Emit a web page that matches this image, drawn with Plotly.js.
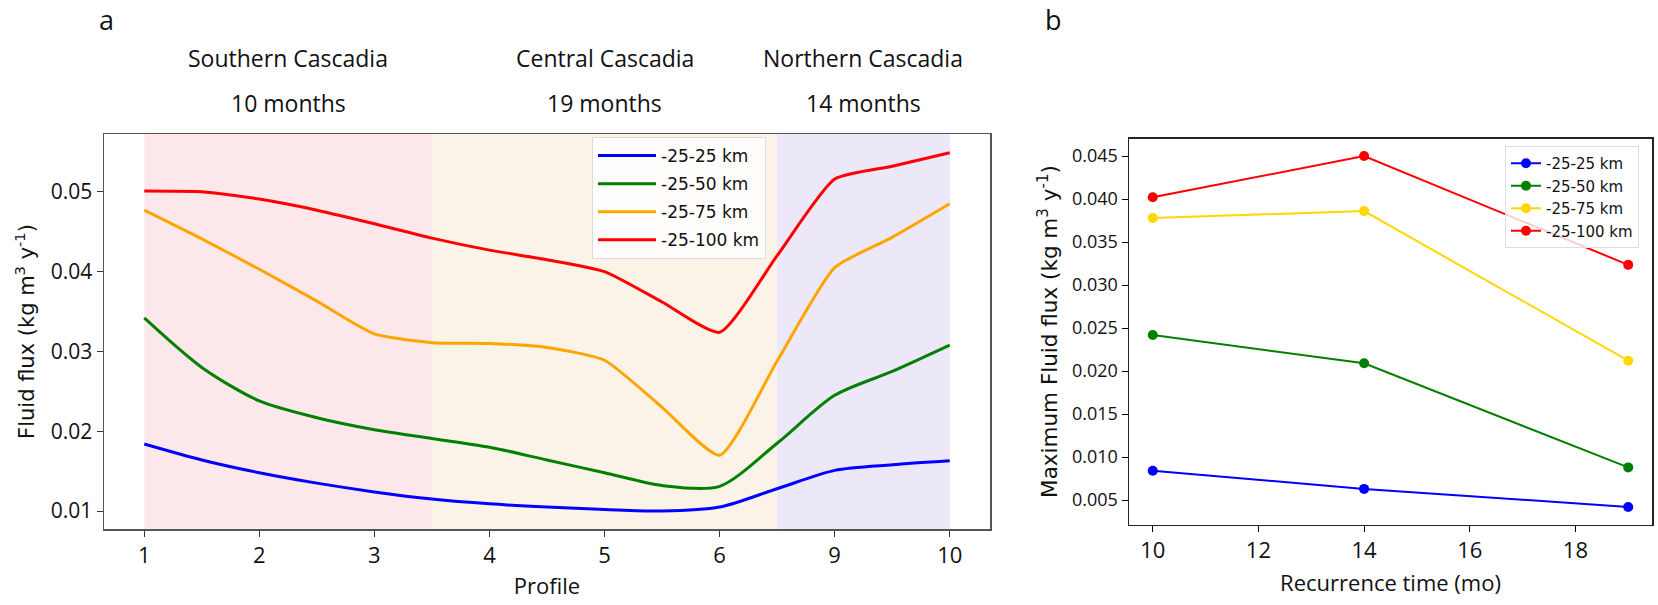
<!DOCTYPE html>
<html>
<head>
<meta charset="utf-8">
<script src="https://cdn.plot.ly/plotly-3.0.1.min.js"></script>
<style>
  html, body { margin: 0; padding: 0; background: #fff; }
  #chart { width: 1658px; height: 605px; }
</style>
</head>
<body>
<div id="chart"></div>
<script>
// ---- Panel a: fluid flux along the margin, by profile ----
const profiles = ['1', '2', '3', '4', '5', '6', '9', '10'];
const profileIndex = profiles.map((p, i) => i);

// Sample positions along the profile axis (index units) and flux values
const fluxPos = [0, 0.5, 1, 1.5, 2, 2.5, 3, 3.5, 4, 4.5, 5, 5.5, 6, 6.5, 7];
const flux25  = [0.0184, 0.0164, 0.0148, 0.0135, 0.0124, 0.0115, 0.0109, 0.0105, 0.0102, 0.0100, 0.0105, 0.0128, 0.0151, 0.0158, 0.0163];
const flux50  = [0.0342, 0.0280, 0.0238, 0.0217, 0.0202, 0.0191, 0.0180, 0.0164, 0.0148, 0.0132, 0.0131, 0.0185, 0.0245, 0.0275, 0.0308];
const flux75  = [0.0477, 0.0441, 0.0403, 0.0363, 0.0322, 0.0311, 0.0310, 0.0305, 0.0289, 0.0230, 0.0170, 0.0288, 0.0405, 0.0443, 0.0485];
const flux100 = [0.0501, 0.0500, 0.0491, 0.0477, 0.0460, 0.0442, 0.0427, 0.0415, 0.0400, 0.0362, 0.0324, 0.0420, 0.0516, 0.0532, 0.0549];

const depthLabels = ['-25-25 km', '-25-50 km', '-25-75 km', '-25-100 km'];
const colorsA = ['#0000ff', '#008000', '#ffa500', '#ff0000'];
const colorsB = ['#0000ff', '#008000', '#ffd700', '#ff0000'];

// Segments of the margin: extent in profile-index units, names and recurrence
const regionNames  = ['Southern Cascadia', 'Central Cascadia', 'Northern Cascadia'];
const regionMonths = ['10 months', '19 months', '14 months'];
const regionStart  = [0, 2.5, 5.5];
const regionEnd    = [2.5, 5.5, 7];
const regionFill   = ['#fce8ea', '#fcf3e8', '#ece8f8'];

// ---- Panel b: maximum flux against recurrence time ----
const recurrence = [10, 14, 19];
const max25  = [0.0084, 0.0063, 0.0042];
const max50  = [0.0242, 0.0209, 0.0088];
const max75  = [0.0378, 0.0386, 0.0212];
const max100 = [0.0402, 0.0450, 0.03235];

const FONT_SANS = 'Open Sans, Noto Sans, sans-serif';
const FONT_DV = 'DejaVu Sans, sans-serif';

const fluxSeries = [flux25, flux50, flux75, flux100];
const maxSeries = [max25, max50, max75, max100];
const fluxSmoothing = [0.8, 0.8, 0.55, 0.55];

const traces = [];
fluxSeries.forEach((ys, i) => {
  traces.push({
    type: 'scatter', mode: 'lines',
    x: fluxPos, y: ys,
    name: depthLabels[i],
    line: { color: colorsA[i], width: 3, shape: 'spline', smoothing: fluxSmoothing[i] },
    xaxis: 'x', yaxis: 'y',
    legend: 'legend', legendgroup: 'a' + i,
    hoverinfo: 'skip'
  });
});
maxSeries.forEach((ys, i) => {
  traces.push({
    type: 'scatter', mode: 'lines+markers',
    x: recurrence, y: ys,
    name: depthLabels[i],
    line: { color: colorsB[i], width: 2 },
    marker: { color: colorsB[i], size: 10 },
    xaxis: 'x2', yaxis: 'y2',
    legend: 'legend2', legendgroup: 'b' + i,
    hoverinfo: 'skip'
  });
});

const W = 1658, H = 605;
const yDomA = [1 - 529 / H, 1 - 134 / H];
const yDomB = [1 - 524.5 / H, 1 - 138.5 / H];

const shapes = regionStart.map((s, i) => ({
  type: 'rect', xref: 'x', yref: 'y domain',
  x0: s, x1: regionEnd[i], y0: 0, y1: 1,
  fillcolor: regionFill[i], line: { width: 0 }, layer: 'below'
}));

const annotations = [];
regionNames.forEach((name, i) => {
  const xc = (regionStart[i] + regionEnd[i]) / 2;
  annotations.push({
    xref: 'x', yref: 'paper', x: xc, y: 1 - 58 / H,
    text: name, showarrow: false, xanchor: 'center', yanchor: 'middle',
    font: { family: FONT_SANS, size: 23, color: '#111' }
  });
  annotations.push({
    xref: 'x', yref: 'paper', x: xc, y: 1 - 103 / H,
    text: regionMonths[i], showarrow: false, xanchor: 'center', yanchor: 'middle',
    font: { family: FONT_SANS, size: 23, color: '#111' }
  });
});
annotations.push({
  xref: 'paper', yref: 'paper', x: 106 / W, y: 1 - 19 / H,
  text: 'a', showarrow: false, xanchor: 'center', yanchor: 'middle',
  font: { family: FONT_SANS, size: 27, color: '#111' }
});
annotations.push({
  xref: 'paper', yref: 'paper', x: 1053 / W, y: 1 - 19 / H,
  text: 'b', showarrow: false, xanchor: 'center', yanchor: 'middle',
  font: { family: FONT_SANS, size: 27, color: '#111' }
});

const layout = {
  width: W, height: H,
  margin: { l: 0, r: 0, t: 0, b: 0 },
  paper_bgcolor: '#fff', plot_bgcolor: 'rgba(0,0,0,0)',
  showlegend: true,
  xaxis: {
    domain: [104 / W, 990 / W], anchor: 'y',
    range: [-0.35, 7.35],
    tickmode: 'array', tickvals: profileIndex, ticktext: profiles,
    ticks: 'outside', ticklen: 6, tickcolor: '#333',
    showgrid: false, zeroline: false,
    showline: true, mirror: true, linecolor: '#555', linewidth: 1.5,
    tickfont: { family: FONT_SANS, size: 22, color: '#111' },
    title: { text: 'Profile', standoff: 10, font: { family: FONT_SANS, size: 22, color: '#111' } },
    automargin: false
  },
  yaxis: {
    domain: yDomA, anchor: 'x',
    range: [0.00775, 0.05725],
    tickmode: 'array', tickvals: [0.01, 0.02, 0.03, 0.04, 0.05], tickformat: '.2f',
    ticks: 'outside', ticklen: 6, tickcolor: '#333',
    showgrid: false, zeroline: false,
    showline: true, mirror: true, linecolor: '#555', linewidth: 1.5,
    tickfont: { family: FONT_SANS, size: 21, color: '#111' },
    title: { text: 'Fluid flux (kg m<sup>3</sup> y<sup>-1</sup>)', standoff: 10, font: { family: FONT_DV, size: 21, color: '#111' } },
    automargin: false
  },
  xaxis2: {
    domain: [1129 / W, 1652 / W], anchor: 'y2',
    range: [9.55, 19.45],
    tickmode: 'array', tickvals: [10, 12, 14, 16, 18],
    ticks: 'outside', ticklen: 6, tickcolor: '#000',
    showgrid: false, zeroline: false,
    showline: true, mirror: true, linecolor: '#222', linewidth: 1.5,
    tickfont: { family: FONT_SANS, size: 22, color: '#111' },
    title: { text: 'Recurrence time (mo)', standoff: 12, font: { family: FONT_SANS, size: 22, color: '#111' } },
    automargin: false
  },
  yaxis2: {
    domain: yDomB, anchor: 'x2',
    range: [0.00216, 0.04704],
    tickmode: 'array', tickvals: [0.005, 0.01, 0.015, 0.02, 0.025, 0.03, 0.035, 0.04, 0.045], tickformat: '.3f',
    ticks: 'outside', ticklen: 6, tickcolor: '#000',
    showgrid: false, zeroline: false,
    showline: true, mirror: true, linecolor: '#222', linewidth: 1.5,
    tickfont: { family: FONT_SANS, size: 18, color: '#111' },
    title: { text: 'Maximum Fluid flux (kg m<sup>3</sup> y<sup>-1</sup>)', standoff: 8, font: { family: FONT_DV, size: 21.5, color: '#111' } },
    automargin: false
  },
  legend: {
    x: 592 / W, y: 1 - 137 / H, xanchor: 'left', yanchor: 'top',
    bgcolor: 'rgba(255,255,255,0.8)', bordercolor: '#ddd', borderwidth: 1,
    font: { family: FONT_DV, size: 17, color: '#111' },
    itemwidth: 58, tracegroupgap: 3, traceorder: 'grouped'
  },
  legend2: {
    x: 1505 / W, y: 1 - 146 / H, xanchor: 'left', yanchor: 'top',
    bgcolor: 'rgba(255,255,255,0.8)', bordercolor: '#ddd', borderwidth: 1,
    font: { family: FONT_DV, size: 15, color: '#111' },
    itemwidth: 30, tracegroupgap: 0, traceorder: 'grouped'
  },
  shapes: shapes,
  annotations: annotations
};

Plotly.newPlot('chart', traces, layout, { staticPlot: true, displayModeBar: false });
</script>
</body>
</html>
